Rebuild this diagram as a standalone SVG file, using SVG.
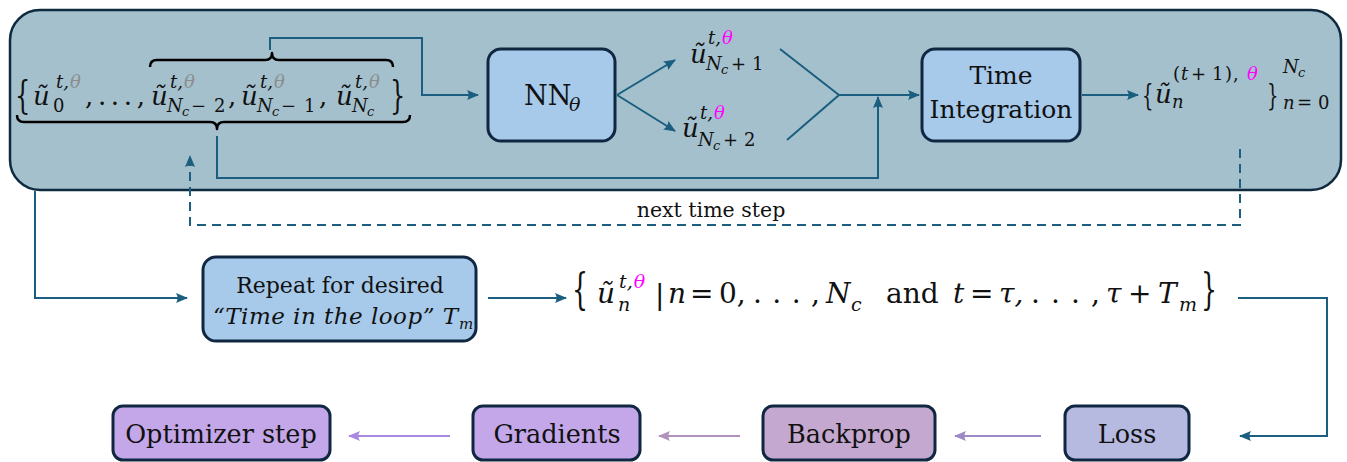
<svg xmlns="http://www.w3.org/2000/svg" width="1347" height="462" viewBox="0 0 1347 462">
<style>
text{font-family:"DejaVu Serif",serif}
.m{fill:#111}
.i{font-style:italic}
.mg{fill:#ff00ff}
.gy{fill:#8c8c8c}
.conn{fill:none;stroke:#1b5e80;stroke-width:2}
.box{stroke:#0f2740;stroke-width:3}
.brace{fill:none;stroke:#000;stroke-width:2.5;stroke-linejoin:round}
</style>
<defs>
<marker id="ah" markerUnits="userSpaceOnUse" markerWidth="12" markerHeight="10" refX="11" refY="5" orient="auto"><path d="M0,0 L12,5 L0,10 Q3,5 0,0 Z" fill="#1b5e80"/></marker>
<marker id="ahp1" markerUnits="userSpaceOnUse" markerWidth="12" markerHeight="10" refX="11" refY="5" orient="auto"><path d="M0,0 L12,5 L0,10 Q3,5 0,0 Z" fill="#9b8ac4"/></marker>
<marker id="ahp2" markerUnits="userSpaceOnUse" markerWidth="12" markerHeight="10" refX="11" refY="5" orient="auto"><path d="M0,0 L12,5 L0,10 Q3,5 0,0 Z" fill="#b092bc"/></marker>
<marker id="ahp3" markerUnits="userSpaceOnUse" markerWidth="12" markerHeight="10" refX="11" refY="5" orient="auto"><path d="M0,0 L12,5 L0,10 Q3,5 0,0 Z" fill="#a98ae0"/></marker>
</defs>
<rect width="1347" height="462" fill="#fff"/>

<g id="loop-panel">
<rect x="10" y="10" width="1331" height="180" rx="30" fill="#a4c0cd" stroke="#0e2a3f" stroke-width="2.5"/>
</g>

<g id="state-set">
<path class="brace" d="M150,67 Q150,60 157,60 L265,60 Q272,60 272,53 Q272,60 279,60 L386,60 Q393,60 393,67"/>
<path class="brace" d="M17,115 Q17,122 24,122 L210,122 Q217,122 217,129 Q217,122 224,122 L403,122 Q410,122 410,115"/>
<text class="m" transform="translate(15,108) scale(0.6,1)" font-size="40">{</text>
<text class="m i" x="33" y="105" font-size="26">ũ</text>
<text class="m i" x="56" y="88" font-size="18">t,<tspan class="gy" dx="1">θ</tspan></text>
<text class="m" x="53" y="112" font-size="18">0</text>
<text class="m" x="85" y="105" font-size="26" textLength="60">, . . . ,</text>
<text class="m i" x="151" y="105" font-size="26">ũ</text>
<text class="m i" x="170" y="88" font-size="18">t,<tspan class="gy" dx="1">θ</tspan></text>
<text class="m i" x="167" y="112" font-size="18">N</text>
<text class="m i" x="182" y="116" font-size="13">c</text>
<text class="m" x="191" y="112" font-size="18">−</text>
<text class="m" x="214" y="112" font-size="18">2</text>
<text class="m" x="228" y="105" font-size="26">,</text>
<text class="m i" x="241" y="105" font-size="26">ũ</text>
<text class="m i" x="260" y="88" font-size="18">t,<tspan class="gy" dx="1">θ</tspan></text>
<text class="m i" x="257" y="112" font-size="18">N</text>
<text class="m i" x="272" y="116" font-size="13">c</text>
<text class="m" x="281" y="112" font-size="18">−</text>
<text class="m" x="304" y="112" font-size="18">1</text>
<text class="m" x="319" y="105" font-size="26">,</text>
<text class="m i" x="336" y="105" font-size="26">ũ</text>
<text class="m i" x="355" y="88" font-size="18">t,<tspan class="gy" dx="1">θ</tspan></text>
<text class="m i" x="352" y="112" font-size="18">N</text>
<text class="m i" x="367" y="116" font-size="13">c</text>
<text class="m" transform="translate(390,108) scale(0.6,1)" font-size="40">}</text>
</g>

<g id="nn">
<rect class="box" x="488" y="49" width="127" height="92" rx="13" fill="#a7c9ea"/>
<text class="m" x="524" y="105" font-size="27">NN</text>
<text class="m i" x="569" y="111" font-size="19">θ</text>
</g>

<g id="pred1">
<text class="m i" x="690" y="63" font-size="26">ũ</text>
<text class="m i" x="708" y="44" font-size="18">t,<tspan class="mg" dx="1">θ</tspan></text>
<text class="m i" x="706" y="70" font-size="18">N</text>
<text class="m i" x="721" y="74" font-size="13">c</text>
<text class="m" x="731" y="70" font-size="18">+</text>
<text class="m" x="752" y="70" font-size="18">1</text>
</g>
<g id="pred2">
<text class="m i" x="682" y="137" font-size="26">ũ</text>
<text class="m i" x="700" y="119" font-size="18">t,<tspan class="mg" dx="1">θ</tspan></text>
<text class="m i" x="698" y="146" font-size="18">N</text>
<text class="m i" x="713" y="150" font-size="13">c</text>
<text class="m" x="723" y="146" font-size="18">+</text>
<text class="m" x="744" y="146" font-size="18">2</text>
</g>

<g id="time-integration">
<rect class="box" x="922" y="49" width="158" height="92" rx="13" fill="#a7c9ea"/>
<text class="m" x="1001" y="84" font-size="25" text-anchor="middle">Time</text>
<text class="m" x="1001" y="118" font-size="25" text-anchor="middle">Integration</text>
</g>

<g id="next-state">
<text class="m" transform="translate(1142,105) scale(0.6,1)" font-size="30">{</text>
<text class="m i" x="1155" y="103" font-size="26">ũ</text>
<text class="m" x="1173" y="80" font-size="18">(</text>
<text class="m i" x="1181" y="80" font-size="18">t</text>
<text class="m" x="1191" y="80" font-size="18">+</text>
<text class="m" x="1212" y="80" font-size="18">1</text>
<text class="m" x="1225" y="80" font-size="18">)</text>
<text class="m" x="1233" y="80" font-size="18">,</text>
<text class="m i mg" x="1247" y="80" font-size="18">θ</text>
<text class="m i" x="1172" y="108" font-size="18">n</text>
<text class="m" transform="translate(1267,105) scale(0.6,1)" font-size="30">}</text>
<text class="m i" x="1283" y="73" font-size="18">N</text>
<text class="m i" x="1298" y="77" font-size="13">c</text>
<text class="m i" x="1283" y="109" font-size="18">n</text>
<text class="m" x="1297" y="109" font-size="18">=</text>
<text class="m" x="1318" y="109" font-size="18">0</text>
</g>

<g id="repeat">
<rect class="box" x="203" y="257" width="273" height="84" rx="13" fill="#a7c9ea"/>
<text class="m" x="340" y="293" font-size="22" text-anchor="middle">Repeat for desired</text>
<text class="m i" x="213" y="324" font-size="23" textLength="245">“Time in the loop” T</text>
<text class="m i" x="459" y="329" font-size="15">m</text>
</g>

<g id="trajectory-set">
<text class="m" transform="translate(572,304) scale(0.6,1)" font-size="42">{</text>
<text class="m i" x="597" y="303" font-size="28">ũ</text>
<text class="m i" x="619" y="288" font-size="19">t,<tspan class="mg" dx="1">θ</tspan></text>
<text class="m i" x="618" y="311" font-size="19">n</text>
<text class="m" x="655" y="304" font-size="28">|</text>
<text class="m i" x="668" y="303" font-size="28">n</text>
<text class="m" x="690" y="303" font-size="28">=</text>
<text class="m" x="719" y="303" font-size="28">0,</text>
<text class="m" x="753" y="303" font-size="28" textLength="67">. . . ,</text>
<text class="m i" x="826" y="303" font-size="28">N</text>
<text class="m i" x="851" y="311" font-size="19">c</text>
<text class="m" x="886" y="303" font-size="28">and</text>
<text class="m i" x="953" y="303" font-size="28">t</text>
<text class="m" x="970" y="303" font-size="28">=</text>
<text class="m i" x="999" y="303" font-size="28">τ,</text>
<text class="m" x="1031" y="303" font-size="28" textLength="69">. . . ,</text>
<text class="m i" x="1106" y="303" font-size="28">τ</text>
<text class="m" x="1128" y="303" font-size="28">+</text>
<text class="m i" x="1158" y="303" font-size="28">T</text>
<text class="m i" x="1179" y="311" font-size="19">m</text>
<text class="m" transform="translate(1201,304) scale(0.6,1)" font-size="42">}</text>
</g>

<g id="loss">
<rect class="box" x="1065" y="406" width="124" height="54" rx="10" fill="#b6b9e0"/>
<text class="m" x="1127" y="443" font-size="25.5" text-anchor="middle">Loss</text>
</g>
<g id="backprop">
<rect class="box" x="763" y="406" width="172" height="54" rx="10" fill="#c5a8d0"/>
<text class="m" x="849" y="443" font-size="25.5" text-anchor="middle">Backprop</text>
</g>
<g id="gradients">
<rect class="box" x="473" y="406" width="167" height="54" rx="10" fill="#c3a7e8"/>
<text class="m" x="557" y="443" font-size="25.5" text-anchor="middle">Gradients</text>
</g>
<g id="optimizer">
<rect class="box" x="113" y="406" width="217" height="54" rx="10" fill="#c3a7e8"/>
<text class="m" x="221" y="443" font-size="25.5" text-anchor="middle">Optimizer step</text>
</g>

<g id="connectors">
<polyline class="conn" points="270,50 270,38 422,38 422,95 478,95" marker-end="url(#ah)"/>
<line class="conn" x1="617" y1="95" x2="675" y2="60" marker-end="url(#ah)"/>
<line class="conn" x1="617" y1="95" x2="675" y2="131" marker-end="url(#ah)"/>
<polyline class="conn" points="780,49 839,95 787,140"/>
<line class="conn" x1="839" y1="95" x2="919" y2="95" marker-end="url(#ah)"/>
<polyline class="conn" points="217,136 217,178 878,178 878,97" marker-end="url(#ah)"/>
<line class="conn" x1="1082" y1="95" x2="1138" y2="95" marker-end="url(#ah)"/>
<polyline class="conn" points="1240,149 1240,225 190,225 190,156" stroke-dasharray="9 6" marker-end="url(#ah)"/>
<text class="m" x="711" y="217" font-size="20.5" text-anchor="middle">next time step</text>
<polyline class="conn" points="35,191 35,298 187,298" marker-end="url(#ah)"/>
<line class="conn" x1="488" y1="298" x2="566" y2="298" marker-end="url(#ah)"/>
<polyline class="conn" points="1238,298 1327,298 1327,436 1240,436" marker-end="url(#ah)"/>
<line x1="1041" y1="436" x2="955" y2="436" stroke="#9b8ac4" stroke-width="2" marker-end="url(#ahp1)"/>
<line x1="740" y1="436" x2="659" y2="436" stroke="#b092bc" stroke-width="2" marker-end="url(#ahp2)"/>
<line x1="450" y1="436" x2="349" y2="436" stroke="#a98ae0" stroke-width="2" marker-end="url(#ahp3)"/>
</g>
</svg>
